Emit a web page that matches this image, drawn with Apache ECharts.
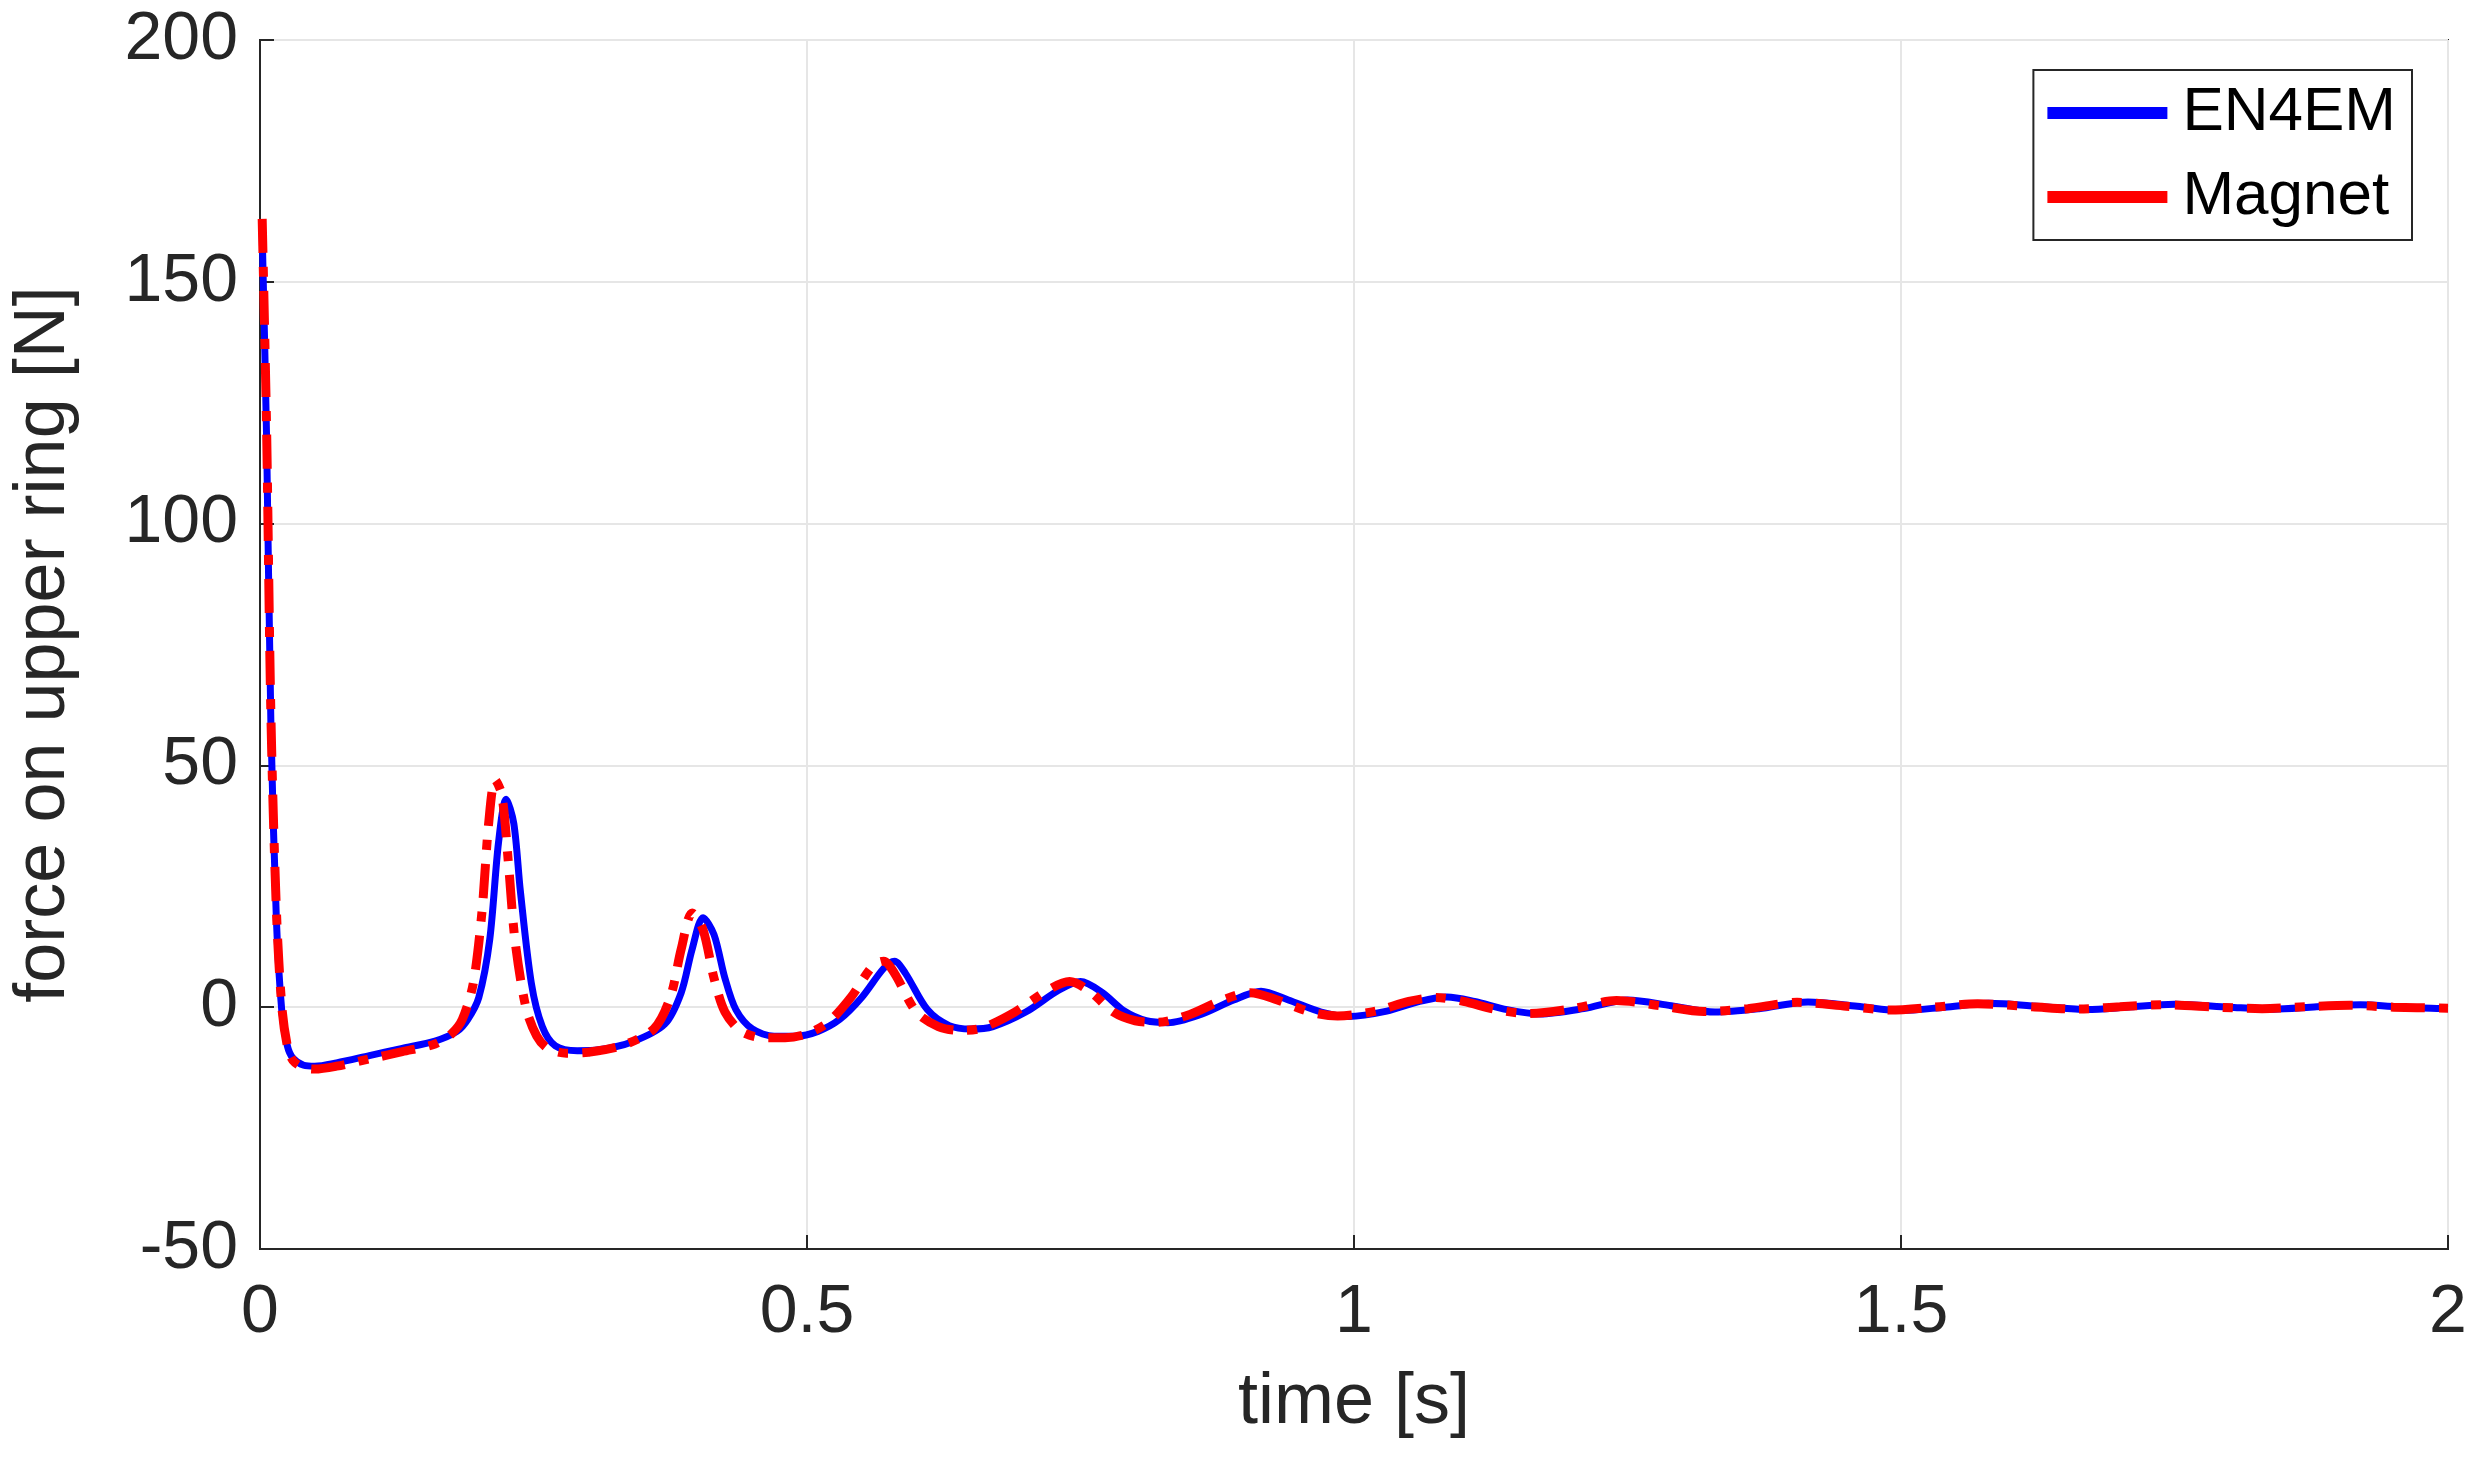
<!DOCTYPE html>
<html>
<head>
<meta charset="utf-8">
<script src="https://cdn.jsdelivr.net/npm/echarts@6/dist/echarts.min.js"></script>
<style>html,body{margin:0;padding:0;background:#fff}#chart{width:2478px;height:1459px}</style>
</head>
<body>
<div id="chart"></div>
<script>
// time [s], force [N]
const en4emData = [
    [0.002, 160], [0.006, 118], [0.01, 58], [0.015, 18], [0.02, -1], [0.025, -8], [0.03, -10.5], [0.04, -12],
    [0.05, -12.2], [0.07, -11.5], [0.1, -10], [0.13, -8.5], [0.16, -7], [0.18, -5], [0.19, -2.5], [0.2, 2],
    [0.21, 14], [0.218, 34], [0.225, 43], [0.232, 38], [0.238, 24], [0.248, 5], [0.258, -4], [0.27, -8],
    [0.29, -9], [0.31, -8.8], [0.34, -7.2], [0.37, -3.5], [0.385, 3], [0.395, 12], [0.405, 18.5], [0.415, 15],
    [0.425, 6], [0.435, -0.5], [0.45, -4.5], [0.47, -6], [0.49, -6], [0.51, -5], [0.53, -2.5], [0.55, 2],
    [0.57, 8], [0.58, 9.5], [0.59, 7], [0.61, -0.5], [0.63, -3.8], [0.65, -4.5], [0.67, -4], [0.7, -1],
    [0.73, 3.5], [0.75, 5.3], [0.77, 3], [0.79, -0.8], [0.81, -2.8], [0.83, -3.2], [0.86, -1.5], [0.89, 1.5],
    [0.915, 3.3], [0.94, 1.5], [0.97, -1], [0.995, -1.9], [1.03, -0.8], [1.06, 1.2], [1.085, 2.1], [1.11, 1.2],
    [1.14, -0.5], [1.17, -1.4], [1.21, -0.3], [1.25, 1.5], [1.29, 0.3], [1.33, -1], [1.37, -0.3], [1.415, 1.1],
    [1.46, 0.2], [1.5, -0.7], [1.54, 0], [1.58, 0.8], [1.63, 0.1], [1.67, -0.5], [1.71, 0.1], [1.75, 0.6],
    [1.8, 0], [1.84, -0.4], [1.88, 0.1], [1.92, 0.5], [1.96, 0], [2.0, -0.3]
];
const magnetData = [
    [0.002, 163], [0.006, 120], [0.01, 60], [0.015, 20], [0.02, 0], [0.025, -8], [0.03, -11], [0.04, -12.5],
    [0.05, -12.8], [0.07, -12.2], [0.1, -10.7], [0.13, -9.2], [0.16, -7.6], [0.175, -5.5], [0.185, -2.5], [0.195, 5],
    [0.203, 20], [0.209, 38], [0.215, 47], [0.221, 44], [0.227, 30], [0.233, 14], [0.243, 0], [0.253, -6],
    [0.263, -8.5], [0.28, -9.5], [0.3, -9.3], [0.33, -8], [0.36, -4.5], [0.375, 2], [0.385, 12], [0.395, 19.5],
    [0.405, 16], [0.415, 6], [0.425, -1], [0.44, -5], [0.46, -6.3], [0.48, -6.3], [0.5, -5.5], [0.52, -3],
    [0.54, 2], [0.56, 8.5], [0.57, 9.5], [0.58, 7], [0.6, -1], [0.62, -4], [0.64, -4.8], [0.66, -4.3],
    [0.69, -1], [0.72, 3.5], [0.74, 5.3], [0.76, 3], [0.78, -1], [0.8, -2.8], [0.82, -3.1], [0.85, -1.5],
    [0.88, 1.5], [0.905, 3], [0.93, 1.5], [0.96, -1], [0.985, -1.8], [1.02, -0.8], [1.05, 1.2], [1.075, 2],
    [1.1, 1.2], [1.13, -0.5], [1.16, -1.3], [1.2, -0.3], [1.24, 1.4], [1.28, 0.3], [1.32, -0.9], [1.36, -0.3],
    [1.405, 1], [1.45, 0.2], [1.49, -0.6], [1.53, 0], [1.57, 0.7], [1.62, 0.1], [1.66, -0.4], [1.7, 0.1],
    [1.74, 0.5], [1.79, 0], [1.83, -0.3], [1.87, 0.1], [1.91, 0.4], [1.95, 0], [2.0, -0.2]
];
const xTicks = {min: 0, max: 2, interval: 0.5};
const yTicks = {min: -50, max: 200, interval: 50};

let chart = echarts.init(document.getElementById('chart'));
let font = 'Helvetica, "Liberation Sans", Arial, sans-serif';
let axisCommon = {
    axisLine: {show: true, onZero: false, lineStyle: {color: '#262626', width: 2}},
    axisTick: {show: true, inside: true, length: 14, lineStyle: {color: '#262626', width: 2}},
    splitLine: {show: true, lineStyle: {color: '#e6e6e6', width: 2}},
    axisLabel: {color: '#262626', fontSize: 68, fontFamily: font},
    nameTextStyle: {color: '#262626', fontSize: 72, fontFamily: font}
};
chart.setOption({
    animation: false,
    backgroundColor: '#fff',
    grid: {left: 253, right: 30, top: 40, bottom: 210, show: true, borderColor: '#262626', borderWidth: 2},
    legend: {
        right: 66, top: 70,
        orient: 'vertical',
        backgroundColor: '#fff',
        borderColor: '#262626', borderWidth: 2,
        padding: [12, 16, 12, 14],
        itemWidth: 140, itemHeight: 12, itemGap: 22,
        textStyle: {fontSize: 62, fontFamily: font, color: '#000'},
        data: [
            {name: 'EN4EM', icon: 'path://M0,0H10V1H0Z'},
            {name: 'Magnet', icon: 'path://M0,0H10V1H0Z'}
        ]
    },
    xAxis: Object.assign({
        type: 'value', ...xTicks,
        name: 'time [s]', nameLocation: 'middle', nameGap: 118
    }, axisCommon, {axisLabel: Object.assign({}, axisCommon.axisLabel, {margin: 30})}),
    yAxis: Object.assign({
        type: 'value', ...yTicks,
        name: 'force on upper ring [N]', nameLocation: 'middle', nameGap: 180
    }, axisCommon, {axisLabel: Object.assign({}, axisCommon.axisLabel, {margin: 22})}),
    series: [
        {
            name: 'EN4EM', type: 'line', data: en4emData, showSymbol: false, smooth: 0.3,
            itemStyle: {color: '#0000ff'},
            lineStyle: {color: '#0000ff', width: 7}
        },
        {
            name: 'Magnet', type: 'line', data: magnetData, showSymbol: false, smooth: 0.3,
            itemStyle: {color: '#ff0000'},
            lineStyle: {color: '#ff0000', width: 9, type: [34, 14, 10, 14]}
        }
    ]
});
</script>
</body>
</html>
